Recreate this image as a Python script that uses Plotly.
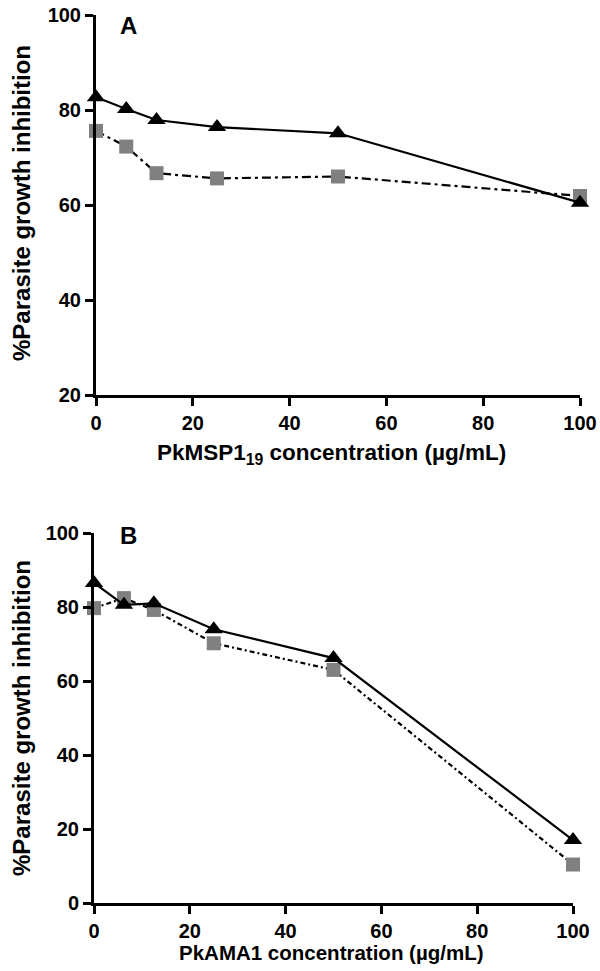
import plotly.graph_objects as go

# Data
conc = [0, 6.25, 12.5, 25, 50, 100]
a_triangle = [82.7, 80.2, 77.9, 76.4, 75.1, 60.5]
a_square = [75.6, 72.3, 66.7, 65.6, 66.0, 61.9]
b_triangle = [86.5, 80.6, 81.0, 74.0, 66.2, 17.0]
b_square = [79.7, 82.4, 79.2, 70.2, 63.0, 10.4]
x_ticks = [0, 20, 40, 60, 80, 100]
a_y_ticks = [20, 40, 60, 80, 100]
b_y_ticks = [0, 20, 40, 60, 80, 100]

FONT = "Liberation Sans, Arial, sans-serif"
W, H = 600, 971

fig = go.Figure()

def add_pair(xa, ya, tri, sq, dash):
    fig.add_trace(go.Scatter(
        x=conc, y=sq, xaxis=xa, yaxis=ya, mode="lines+markers",
        line=dict(color="black", width=2.2, dash=dash),
        marker=dict(symbol="square", size=14, color="#808080"),
        cliponaxis=False, showlegend=False))
    fig.add_trace(go.Scatter(
        x=conc, y=tri, xaxis=xa, yaxis=ya, mode="lines+markers",
        line=dict(color="black", width=2.2),
        marker=dict(symbol="triangle-up", size=16, color="black"),
        cliponaxis=False, showlegend=False))

add_pair("x", "y", a_triangle, a_square, "9px,4px,3px,4px")
add_pair("x2", "y2", b_triangle, b_square, "5px,3px,2px,3px")

ax_common = dict(showline=True, linewidth=3, linecolor="black", ticks="outside",
                 ticklen=8, tickwidth=3, tickcolor="black", showgrid=False,
                 zeroline=False, automargin=False,
                 tickfont=dict(family=FONT, size=20, color="black", weight="bold"))

fig.update_layout(
    width=W, height=H, margin=dict(l=0, r=0, t=0, b=0, autoexpand=False),
    plot_bgcolor="white", paper_bgcolor="white",
    xaxis=dict(domain=[96 / W, 580 / W], range=[0, 100], tickvals=x_ticks,
               anchor="y", **ax_common),
    yaxis=dict(domain=[1 - 395 / H, 1 - 15 / H], range=[20, 100], tickvals=a_y_ticks,
               anchor="x", **ax_common),
    xaxis2=dict(domain=[94 / W, 573 / W], range=[0, 100], tickvals=x_ticks,
                anchor="y2", **ax_common),
    yaxis2=dict(domain=[1 - 903 / H, 1 - 533 / H], range=[0, 100], tickvals=b_y_ticks,
                anchor="x2", **ax_common),
)

def ann(text, x, y, size, angle=0):
    fig.add_annotation(text=text, x=x / W, y=1 - y / H, xref="paper", yref="paper",
                       showarrow=False, textangle=angle, xanchor="center", yanchor="middle",
                       font=dict(family=FONT, size=size, color="black", weight="bold"))

ann("A", 128, 25, 24)
ann("B", 128, 535, 24)
ann("PkMSP1<sub>19</sub> concentration (µg/mL)", 331, 454, 22.5)
ann("PkAMA1 concentration (µg/mL)", 331, 952, 20.5)
ann("%Parasite growth inhibition", 21, 203, 24, -90)
ann("%Parasite growth inhibition", 21, 718, 24, -90)

fig.write_html("out.html", config={"displayModeBar": False},
               post_script="document.body.style.margin='0';document.body.style.overflow='hidden';")
